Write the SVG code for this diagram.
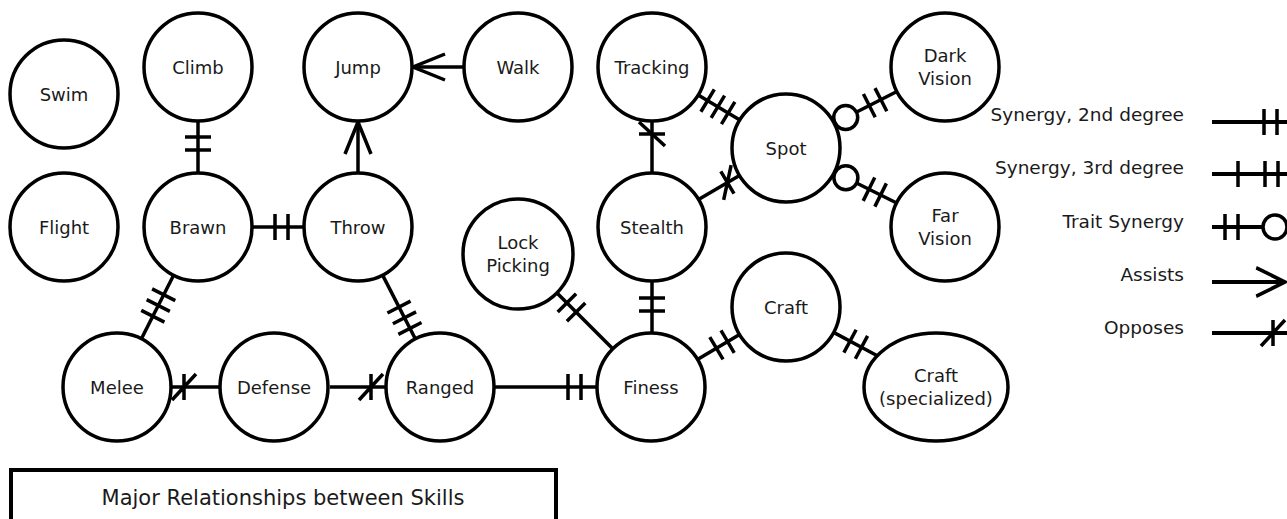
<svg xmlns="http://www.w3.org/2000/svg" xmlns:xlink="http://www.w3.org/1999/xlink" width="1287" height="519" viewBox="0 0 1287 519">
<style>
.node{fill:#fff;stroke:#000;stroke-width:3.5}
.lbl{font-family:"DejaVu Sans","Liberation Sans",sans-serif;font-size:18px;text-anchor:middle;fill:#1a1a1a}
.edge{stroke:#000;stroke-width:3.5;fill:none}
.mk{stroke:#000;stroke-width:3.5;fill:none}
.tc{fill:#fff;stroke:#000;stroke-width:3.5}
.leg{font-family:"DejaVu Sans","Liberation Sans",sans-serif;font-size:18.5px;text-anchor:end;fill:#1a1a1a}
.legl{stroke:#000;stroke-width:4;fill:none}
.title{font-family:"DejaVu Sans","Liberation Sans",sans-serif;font-size:21px;text-anchor:middle;fill:#1a1a1a}
</style>
<defs>
<path id="m2" d="M0,-13V13M13,-13V13"/>
<path id="m3" d="M0,-13V13M12,-13V13M24,-13V13"/>
<path id="opp" d="M0,-13V13M-12,13L12,-13"/>
<path id="arr" d="M-32,-13L0,0L-32,13"/>
</defs>
<rect width="1287" height="519" fill="#fff"/>
<g id="connectors">
<line class="edge" x1="198" y1="121" x2="198" y2="173"/>
<use class="mk" xlink:href="#m2" transform="translate(198,137) rotate(90)"/>
<line class="edge" x1="358" y1="173" x2="358" y2="122"/>
<use class="mk" xlink:href="#arr" transform="translate(358,122) rotate(-90)"/>
<line class="edge" x1="464" y1="67" x2="413" y2="67"/>
<use class="mk" xlink:href="#arr" transform="translate(413,67) rotate(180)"/>
<line class="edge" x1="252" y1="227" x2="304" y2="227"/>
<use class="mk" xlink:href="#m2" transform="translate(275,227)"/>
<line class="edge" x1="173.6" y1="275.2" x2="141.4" y2="338.8"/>
<use class="mk" xlink:href="#m3" transform="translate(163.7,294.8) rotate(116.9)"/>
<line class="edge" x1="382.6" y1="275.1" x2="415.4" y2="339"/>
<use class="mk" xlink:href="#m3" transform="translate(399,307.1) rotate(62.9)"/>
<line class="edge" x1="171" y1="387" x2="220" y2="387"/>
<use class="mk" xlink:href="#opp" transform="translate(184,387) rotate(180)"/>
<line class="edge" x1="330" y1="387" x2="386" y2="387"/>
<use class="mk" xlink:href="#opp" transform="translate(371,387)"/>
<line class="edge" x1="495" y1="387" x2="597" y2="387"/>
<use class="mk" xlink:href="#m2" transform="translate(568,387)"/>
<line class="edge" x1="557" y1="293" x2="613" y2="349"/>
<use class="mk" xlink:href="#m2" transform="translate(566.9,302.9) rotate(45)"/>
<line class="edge" x1="652" y1="281" x2="652" y2="333"/>
<use class="mk" xlink:href="#m2" transform="translate(652,298) rotate(90)"/>
<line class="edge" x1="697.4" y1="359.5" x2="739.6" y2="334.5"/>
<use class="mk" xlink:href="#m2" transform="translate(727.6,341.6) rotate(149.3)"/>
<line class="edge" x1="833.6" y1="332.4" x2="877.3" y2="355.7"/>
<use class="mk" xlink:href="#m2" transform="translate(850,341.2) rotate(28.1)"/>
<line class="edge" x1="652" y1="173" x2="652" y2="121"/>
<use class="mk" xlink:href="#opp" transform="translate(652,134) rotate(-90)"/>
<line class="edge" x1="698.5" y1="199.6" x2="739.5" y2="175.4"/>
<use class="mk" xlink:href="#opp" transform="translate(727.4,182.5) rotate(-30.5)"/>
<line class="edge" x1="698.2" y1="94.9" x2="739.8" y2="120.1"/>
<use class="mk" xlink:href="#m3" transform="translate(707.6,100.6) rotate(31.1)"/>
<line class="edge" x1="834.1" y1="123.5" x2="896.9" y2="91.5"/>
<use class="mk" xlink:href="#m2" transform="translate(880.9,99.7) rotate(153)"/>
<circle class="tc" cx="845.7" cy="117.6" r="12"/>
<line class="edge" x1="834.3" y1="172" x2="896.7" y2="203"/>
<use class="mk" xlink:href="#m2" transform="translate(880.6,195) rotate(-153.6)"/>
<circle class="tc" cx="845.9" cy="177.8" r="12"/>
</g>
<g id="swim"><circle class="node" cx="64" cy="94" r="54"/><text class="lbl" x="64" y="100.5">Swim</text></g>
<g id="climb"><circle class="node" cx="198" cy="67" r="54"/><text class="lbl" x="198" y="73.5">Climb</text></g>
<g id="jump"><circle class="node" cx="358" cy="67" r="54"/><text class="lbl" x="358" y="73.5">Jump</text></g>
<g id="walk"><circle class="node" cx="518" cy="67" r="54"/><text class="lbl" x="518" y="73.5">Walk</text></g>
<g id="tracking"><circle class="node" cx="652" cy="67" r="54"/><text class="lbl" x="652" y="73.5">Tracking</text></g>
<g id="spot"><circle class="node" cx="786" cy="148" r="54"/><text class="lbl" x="786" y="154.5">Spot</text></g>
<g id="darkvision"><circle class="node" cx="945" cy="67" r="54"/><text class="lbl" x="945" y="62">Dark</text><text class="lbl" x="945" y="84.5">Vision</text></g>
<g id="farvision"><circle class="node" cx="945" cy="227" r="54"/><text class="lbl" x="945" y="222">Far</text><text class="lbl" x="945" y="244.5">Vision</text></g>
<g id="flight"><circle class="node" cx="64" cy="227" r="54"/><text class="lbl" x="64" y="233.5">Flight</text></g>
<g id="brawn"><circle class="node" cx="198" cy="227" r="54"/><text class="lbl" x="198" y="233.5">Brawn</text></g>
<g id="throw"><circle class="node" cx="358" cy="227" r="54"/><text class="lbl" x="358" y="233.5">Throw</text></g>
<g id="stealth"><circle class="node" cx="652" cy="227" r="54"/><text class="lbl" x="652" y="233.5">Stealth</text></g>
<g id="lockpicking"><circle class="node" cx="518" cy="254" r="55"/><text class="lbl" x="518" y="249">Lock</text><text class="lbl" x="518" y="271.5">Picking</text></g>
<g id="craft"><circle class="node" cx="786" cy="307" r="54"/><text class="lbl" x="786" y="313.5">Craft</text></g>
<g id="melee"><circle class="node" cx="117" cy="387" r="54"/><text class="lbl" x="117" y="393.5">Melee</text></g>
<g id="defense"><circle class="node" cx="274" cy="387" r="54"/><text class="lbl" x="274" y="393.5">Defense</text></g>
<g id="ranged"><circle class="node" cx="440" cy="387" r="54"/><text class="lbl" x="440" y="393.5">Ranged</text></g>
<g id="finess"><circle class="node" cx="651" cy="387" r="54"/><text class="lbl" x="651" y="393.5">Finess</text></g>
<g id="craftspec"><ellipse class="node" cx="936" cy="387" rx="72" ry="54"/><text class="lbl" x="936" y="382">Craft</text><text class="lbl" x="936" y="404.5">(specialized)</text></g>
<g id="title"><rect x="11" y="470" width="545" height="60" fill="#fff" stroke="#000" stroke-width="4"/><text class="title" x="283" y="505">Major Relationships between Skills</text></g>
<g id="legend">
<text class="leg" x="1184" y="121">Synergy, 2nd degree</text>
<line class="legl" x1="1212" y1="122" x2="1287" y2="122"/>
<use class="mk" xlink:href="#m2" transform="translate(1264,122)"/>
<text class="leg" x="1184" y="174">Synergy, 3rd degree</text>
<line class="legl" x1="1212" y1="174" x2="1287" y2="174"/>
<path class="mk" d="M1238,161V187"/>
<use class="mk" xlink:href="#m2" transform="translate(1265,174)"/>
<text class="leg" x="1184" y="228">Trait Synergy</text>
<line class="legl" x1="1212" y1="227" x2="1263" y2="227"/>
<use class="mk" xlink:href="#m2" transform="translate(1225,227)"/>
<circle class="tc" cx="1275" cy="227" r="12"/>
<text class="leg" x="1184" y="281">Assists</text>
<line class="legl" x1="1212" y1="282" x2="1285" y2="282"/>
<use class="mk" xlink:href="#arr" transform="translate(1285,282) scale(0.9,1.1)"/>
<text class="leg" x="1184" y="334">Opposes</text>
<line class="legl" x1="1212" y1="333" x2="1287" y2="333"/>
<use class="mk" xlink:href="#opp" transform="translate(1273,333)"/>
</g>
</svg>
